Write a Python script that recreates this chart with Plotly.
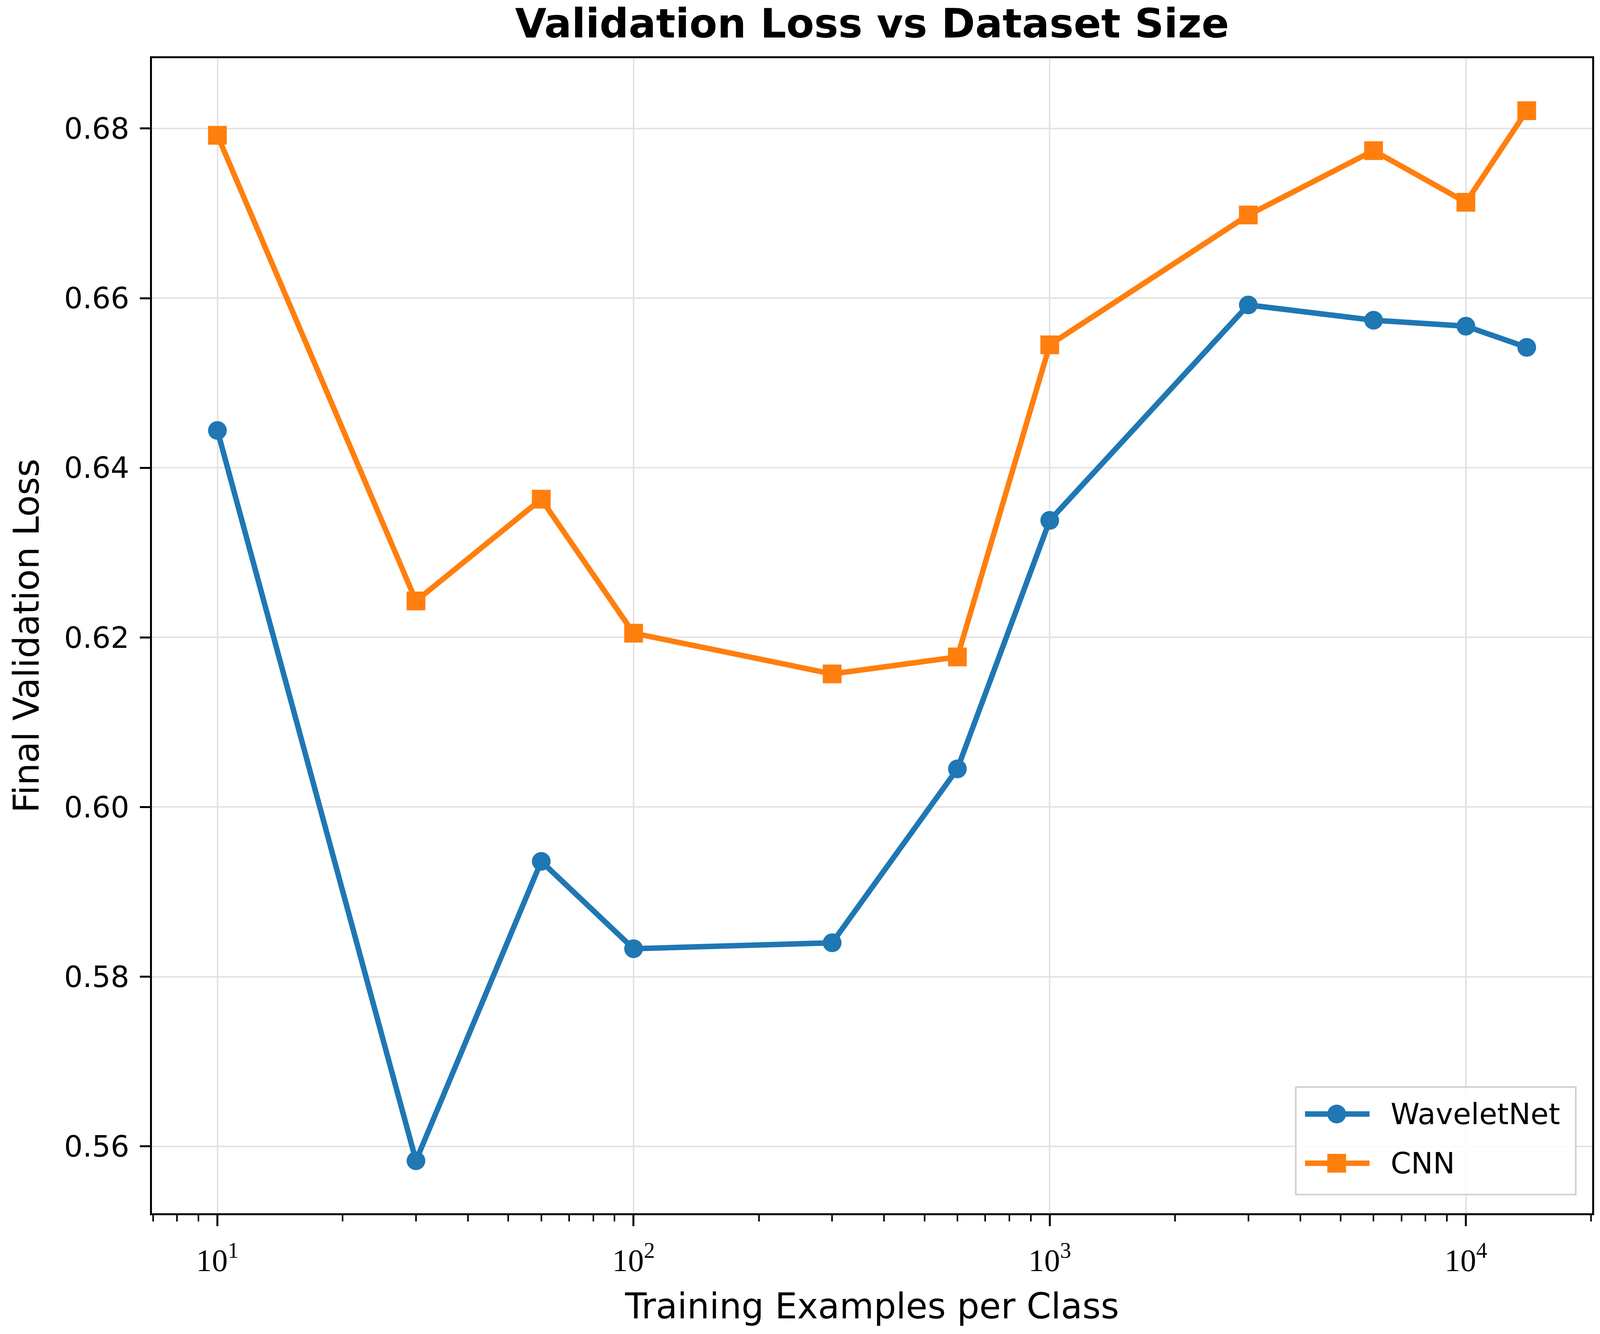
import math
import plotly.graph_objects as go

# ---- data ----
train_sizes = [10, 30, 60, 100, 300, 600, 1000, 3000, 6000, 10000, 14000]
waveletnet_loss = [0.6444, 0.5583, 0.5936, 0.5833, 0.5840, 0.6045, 0.6338, 0.6592, 0.6574, 0.6567, 0.6542]
cnn_loss = [0.6792, 0.6243, 0.6363, 0.6205, 0.6157, 0.6177, 0.6545, 0.6698, 0.6774, 0.6713, 0.6821]
series_names = ["WaveletNet", "CNN"]
x_major_ticks = [10, 100, 1000, 10000]
x_major_labels = ["10<sup>1</sup>", "10<sup>2</sup>", "10<sup>3</sup>", "10<sup>4</sup>"]
y_ticks = [0.56, 0.58, 0.60, 0.62, 0.64, 0.66, 0.68]

BLUE = "#1f77b4"
ORANGE = "#ff7f0e"
# the browser viewport is 4096 x 3414 css px; horizontal sizes are scaled to it
SX = 4096 / 4464
W, H = 4096, 3414
ML, MR, MT, MB = round(424 * SX), round(22 * SX), 149, 309
LW = 14
MS = 48
TICK_FONT = 75
LABEL_FONT = 90
TITLE_FONT = 104
FONT = "DejaVu Sans"

minor_vals = [m * 10 ** e for e in range(0, 5) for m in range(2, 10)]

fig = go.Figure()
fig.add_trace(go.Scatter(
    x=train_sizes, y=waveletnet_loss, mode="lines+markers", name=series_names[0],
    line=dict(color=BLUE, width=LW), marker=dict(symbol="circle", size=MS, color=BLUE),
    showlegend=False))
fig.add_trace(go.Scatter(
    x=train_sizes, y=cnn_loss, mode="lines+markers", name=series_names[1],
    line=dict(color=ORANGE, width=LW), marker=dict(symbol="square", size=MS, color=ORANGE),
    showlegend=False))

# matplotlib-like 5% margins
ymin = min(min(waveletnet_loss), min(cnn_loss))
ymax = max(max(waveletnet_loss), max(cnn_loss))
ypad = 0.05 * (ymax - ymin)
lx0, lx1 = math.log10(min(train_sizes)), math.log10(max(train_sizes))
xpad = 0.05 * (lx1 - lx0)

fig.update_layout(
    width=W, height=H,
    margin=dict(l=ML, r=MR, t=MT, b=MB, pad=0),
    paper_bgcolor="white", plot_bgcolor="white",
    font=dict(family=FONT, color="black", size=TICK_FONT),
    title=dict(text="<b>Validation Loss vs Dataset Size</b>", x=0.5, xref="paper",
               y=1 - 60 / H, yref="container", yanchor="middle", xanchor="center",
               font=dict(size=TITLE_FONT, family=FONT, color="black")),
    showlegend=False,
)
fig.update_xaxes(
    type="log", range=[lx0 - xpad, lx1 + xpad],
    tickmode="array", tickvals=x_major_ticks, ticktext=x_major_labels,
    tickfont=dict(family="Liberation Serif", size=TICK_FONT + 6),
    ticks="outside", ticklen=28, tickwidth=5, tickcolor="black",
    ticklabelstandoff=18,
    minor=dict(tickmode="array", tickvals=minor_vals, ticks="outside", ticklen=16,
               tickwidth=4, tickcolor="black", showgrid=False),
    showline=True, linecolor="black", linewidth=5, mirror=True,
    showgrid=True, gridcolor="#e3e3e3", gridwidth=4, zeroline=False,
    title=dict(text="Training Examples per Class", font=dict(size=LABEL_FONT, family=FONT),
               standoff=42),
)
fig.update_yaxes(
    range=[ymin - ypad, ymax + ypad],
    tickmode="array", tickvals=y_ticks, ticktext=[f"{v:.2f}" for v in y_ticks],
    tickfont=dict(family=FONT, size=TICK_FONT),
    ticks="outside", ticklen=26, tickwidth=5, tickcolor="black",
    ticklabelstandoff=12,
    showline=True, linecolor="black", linewidth=5, mirror=True,
    showgrid=True, gridcolor="#e3e3e3", gridwidth=4, zeroline=False,
    title=dict(text="Final Validation Loss", font=dict(size=LABEL_FONT, family=FONT),
               standoff=36),
)

# ---- legend (drawn to match matplotlib proportions) ----
leg_box = dict(x0=0.7942, x1=0.9886, y0=0.0162, y1=0.1093)
leg_line_x = (0.8006, 0.8454)
leg_marker_x = 0.8226
leg_text_x = 0.8596
leg_rows_y = [0.0859, 0.0433]
fig.add_shape(type="rect", xref="paper", yref="paper", **leg_box,
              line=dict(color="#d0d0d0", width=4), fillcolor="rgba(255,255,255,0.85)",
              layer="above")
for name, color, sym, yy in zip(series_names, [BLUE, ORANGE], ["circle", "rect"], leg_rows_y):
    fig.add_shape(type="line", xref="paper", yref="paper", x0=leg_line_x[0], x1=leg_line_x[1],
                  y0=yy, y1=yy, line=dict(color=color, width=LW), layer="above")
    fig.add_shape(type=sym, xref="paper", yref="paper", xsizemode="pixel", ysizemode="pixel",
                  xanchor=leg_marker_x, yanchor=yy, x0=-MS / 2, x1=MS / 2, y0=-MS / 2, y1=MS / 2,
                  fillcolor=color, line=dict(width=0), layer="above")
    fig.add_annotation(text=name, xref="paper", yref="paper", x=leg_text_x, y=yy,
                       xanchor="left", yanchor="middle", showarrow=False,
                       font=dict(size=TICK_FONT, family=FONT, color="black"))

fig.write_html("out.html", config={"displayModeBar": False},
               post_script="document.body.style.margin='0';document.body.style.overflow='hidden';")
